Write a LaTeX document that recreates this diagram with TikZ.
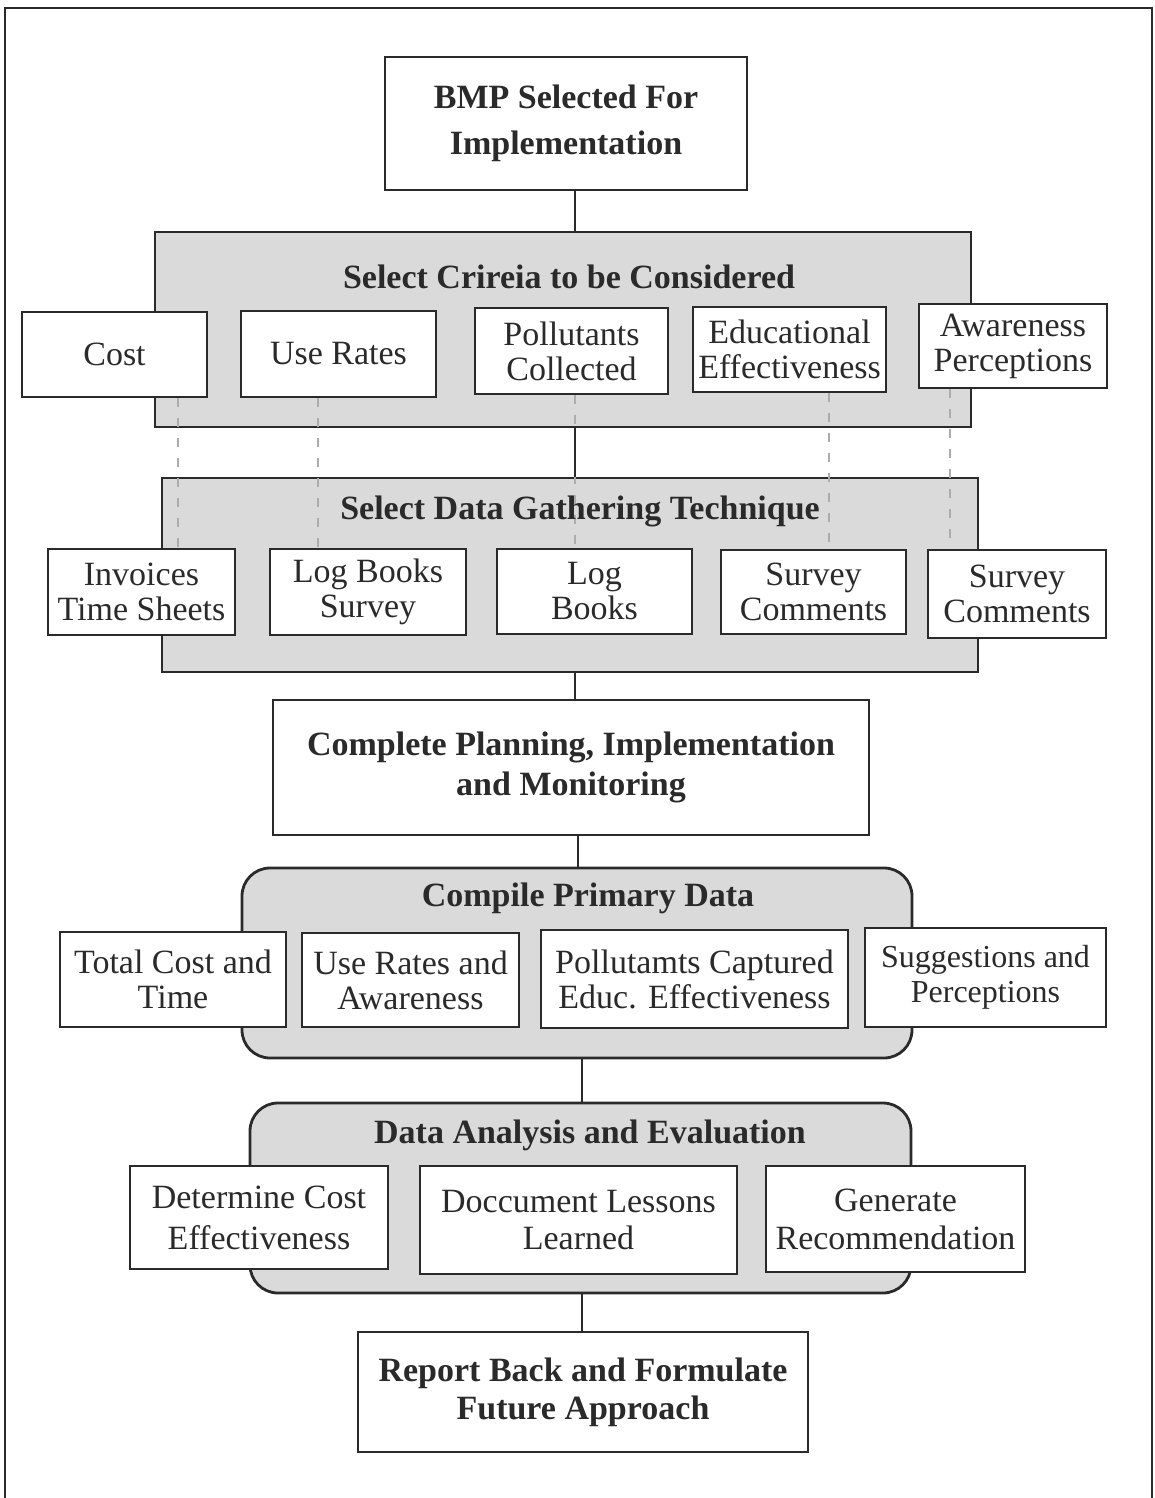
\documentclass[tikz,border=0pt]{standalone}
\usepackage{fontspec}
\setmainfont{Liberation Serif}
\definecolor{ink}{HTML}{2A2A2A}
\definecolor{panelgray}{HTML}{DADADA}
\pgfdeclarelayer{panels}
\pgfdeclarelayer{lines}
\pgfsetlayers{panels,lines,main}
\newcommand\bx[7]{\node[#1, minimum width={(#5-#3)*1pt}, minimum height={(#6-#4)*1pt}] (#2) at ({(#3+#5)/2},{(#4+#6)/2}) {#7};}
\begin{document}
\begin{tikzpicture}[x=1pt,y=-1pt,
  inkline/.style={draw=ink,line width=2.8pt},
  wbox/.style={inkline, fill=white, rectangle, inner sep=0pt, align=center, text=ink, font=\fontsize{34}{35}\selectfont},
  tbox/.style={wbox, font=\bfseries\fontsize{34}{40}\selectfont},
  panel/.style={inkline, fill=panelgray, rectangle, inner sep=0pt},
  rpanel/.style={panel, rounded corners=28pt},
  ttl/.style={inner sep=0pt, text=ink, font=\bfseries\fontsize{34}{36}\selectfont},
  conn/.style={draw=ink, line width=2.6pt},
  dsh/.style={draw=gray!65, line width=1.4pt, dash pattern=on 9pt off 11pt}]
\useasboundingbox (0,0) rectangle (1154,1498);
% frame
\draw[inkline, line width=2.6pt] (5,1498) -- (5,8) -- (1152,8) -- (1152,1498);
% x positions of connectors
\coordinate (v1) at (575,0);
\coordinate (v2) at (578,0);
\coordinate (v3) at (582,0);
\coordinate (d1) at (178,0);
\coordinate (d2) at (318,0);
\coordinate (d4) at (829,0);
\coordinate (d5) at (950,0);
\begin{pgfonlayer}{panels}
\bx{panel}{crit}{155}{232}{971}{427}{}
\bx{panel}{data}{162}{478}{978}{672}{}
\bx{rpanel}{comp}{242}{868}{912}{1058}{}
\bx{rpanel}{anal}{250}{1103}{911}{1293}{}
\end{pgfonlayer}
% boxes
\bx{tbox, font=\bfseries\fontsize{34}{46}\selectfont}{bmp}{385}{57}{747}{190}{BMP Selected For\\Implementation}
\node[ttl] (critT) at (569,277) {Select Crireia to be Considered};
\bx{wbox}{cost}{22}{312}{207}{397}{Cost}
\bx{wbox}{use}{241}{311}{436}{397}{Use Rates}
\bx{wbox}{poll}{475}{308}{668}{394}{Pollutants\\Collected}
\bx{wbox}{edu}{693}{307}{886}{392}{Educational\\Effectiveness}
\bx{wbox}{awa}{919}{304}{1107}{388}{Awareness\\Perceptions}
\node[ttl] (dataT) at (580,511) {Select Data Gathering Technique};
\bx{wbox}{inv}{48}{549}{235}{635}{Invoices\\Time Sheets}
\bx{wbox}{lbs}{270}{549}{466}{635}{Log Books\\Survey}
\bx{wbox}{lb}{497}{549}{692}{634}{Log\\Books}
\bx{wbox}{sc1}{721}{550}{906}{634}{Survey\\Comments}
\bx{wbox}{sc2}{928}{550}{1106}{638}{Survey\\Comments}
\bx{tbox}{cpl}{273}{700}{869}{835}{Complete Planning, Implementation\\and Monitoring}
\node[ttl] (compT) at (588,898) {Compile Primary Data};
\bx{wbox}{tct}{60}{932}{286}{1027}{Total Cost and\\Time}
\bx{wbox}{ura}{302}{933}{519}{1027}{Use Rates and\\Awareness}
\bx{wbox}{pce}{541}{930}{848}{1028}{Pollutamts Captured\\Educ. Effectiveness}
\bx{wbox, font=\fontsize{32}{35}\selectfont}{sp}{865}{928}{1106}{1027}{Suggestions and\\Perceptions}
\node[ttl] (analT) at (590,1135) {Data Analysis and Evaluation};
\bx{wbox, font=\fontsize{34}{41}\selectfont}{dce}{130}{1166}{388}{1269}{Determine Cost\\Effectiveness}
\bx{wbox, font=\fontsize{34}{37}\selectfont}{dll}{420}{1166}{737}{1274}{Doccument Lessons\\Learned}
\bx{wbox, font=\fontsize{34}{38}\selectfont}{gr}{766}{1166}{1025}{1272}{Generate\\Recommendation}
\bx{tbox, font=\bfseries\fontsize{34}{38}\selectfont}{rep}{358}{1332}{808}{1452}{Report Back and Formulate\\Future Approach}
% connectors
\begin{pgfonlayer}{lines}
\draw[dsh] (cost.south -| d1) -- (inv.north -| d1);
\draw[dsh] (use.south -| d2) -- (lbs.north -| d2);
\draw[dsh] (poll.south -| v1) -- (lb.north -| v1);
\draw[dsh] (edu.south -| d4) -- (sc1.north -| d4);
\draw[dsh] (awa.south -| d5) -- (sc2.north -| d5);
\draw[conn] (bmp.south -| v1) -- (crit.north -| v1);
\draw[conn] (crit.south -| v1) -- (data.north -| v1);
\draw[conn] (data.south -| v1) -- (cpl.north -| v1);
\draw[conn] (cpl.south -| v2) -- (comp.north -| v2);
\draw[conn] (comp.south -| v3) -- (anal.north -| v3);
\draw[conn] (anal.south -| v3) -- (rep.north -| v3);
\end{pgfonlayer}
\end{tikzpicture}
\end{document}
